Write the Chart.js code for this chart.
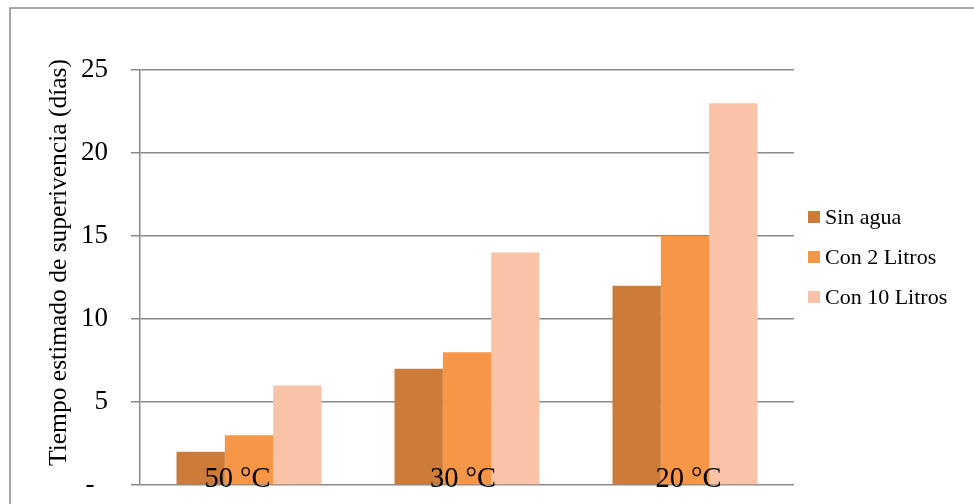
<!DOCTYPE html>
<html>
<head>
<meta charset="utf-8">
<style>
  html, body { margin: 0; padding: 0; background: #ffffff; }
  #wrap { width: 974px; height: 504px; position: relative; }
</style>
<script src="https://cdn.jsdelivr.net/npm/chart.js@4/dist/chart.umd.min.js"></script>
</head>
<body>
<div id="wrap"><canvas id="c" width="974" height="504"></canvas></div>
<script>
const categories = ["50 °C", "30 °C", "20 °C"];
const seriesNames = ["Sin agua", "Con 2 Litros", "Con 10 Litros"];
const sinAgua = [2, 7, 12];
const con2Litros = [3, 8, 15];
const con10Litros = [6, 14, 23];
const yTicks = [0, 5, 10, 15, 20, 25];
const yTitle = "Tiempo estimado de superivencia (días)";

const colors = ["#CC7B38", "#F79646", "#FAC3A8"];
const FONT = "'Liberation Serif', 'Times New Roman', serif";

const framePlugin = {
  id: 'frame',
  beforeDraw(chart) {
    const ctx = chart.ctx;
    ctx.save();
    ctx.fillStyle = '#ffffff';
    ctx.fillRect(0, 0, chart.width, chart.height);
    ctx.strokeStyle = '#8a8a8a';
    ctx.lineWidth = 1.5;
    ctx.strokeRect(10, 8, 1000, 600);
    ctx.restore();
  },
  afterDraw(chart) {
    const ctx = chart.ctx;
    const x = chart.scales.x;
    const area = chart.chartArea;
    ctx.save();
    // category labels inside plot
    ctx.fillStyle = '#000000';
    ctx.font = "28.5px " + FONT;
    ctx.textAlign = 'center';
    ctx.textBaseline = 'alphabetic';
    const mid = (categories.length - 1) / 2;
    categories.forEach((c, i) => {
      ctx.fillText(c, x.getPixelForValue(i) + (i - mid) * 7.5 - 4, area.bottom + 2);
    });
    // y title
    ctx.save();
    ctx.translate(66, (area.top + area.bottom) / 2 - 15);
    ctx.rotate(-Math.PI / 2);
    ctx.font = "25.5px " + FONT;
    ctx.textAlign = 'center';
    ctx.textBaseline = 'alphabetic';
    ctx.fillText(yTitle, 0, 0);
    ctx.restore();
    // legend
    ctx.font = "22px " + FONT;
    ctx.textAlign = 'left';
    ctx.textBaseline = 'middle';
    chart.data.datasets.forEach((ds, i) => {
      const cy = 217 + i * 40;
      ctx.fillStyle = ds.backgroundColor;
      ctx.fillRect(808, cy - 6, 12, 12);
      ctx.fillStyle = '#000000';
      ctx.fillText(ds.label, 825, cy + 1);
    });
    ctx.restore();
  }
};

new Chart(document.getElementById('c'), {
  type: 'bar',
  data: {
    labels: categories,
    datasets: [
      { label: seriesNames[0], data: sinAgua, backgroundColor: colors[0] },
      { label: seriesNames[1], data: con2Litros, backgroundColor: colors[1] },
      { label: seriesNames[2], data: con10Litros, backgroundColor: colors[2] }
    ]
  },
  options: {
    responsive: false,
    animation: false,
    devicePixelRatio: 1,
    layout: { padding: { left: 0, right: 180, top: 70, bottom: 19 } },
    plugins: { legend: { display: false }, tooltip: { enabled: false } },
    datasets: { bar: { barPercentage: 1.0, categoryPercentage: 0.665, borderWidth: 0 } },
    scales: {
      x: {
        display: false
      },
      y: {
        min: 0, max: 25,
        afterBuildTicks(s) { s.ticks = yTicks.map(v => ({ value: v })); },
        afterFit(s) { s.width = 140; s.paddingTop = 0; s.paddingBottom = 0; },
        grid: { color: '#8a8a8a', lineWidth: 1.5, tickLength: 9, drawTicks: true },
        border: { display: true, color: '#8a8a8a', width: 1.5 },
        ticks: {
          color: '#000000',
          padding: 23,
          font: { family: FONT, size: 27 },
          callback(v) { return v === 0 ? '-  ' : String(v); }
        }
      }
    }
  },
  plugins: [framePlugin]
});
</script>
</body>
</html>
